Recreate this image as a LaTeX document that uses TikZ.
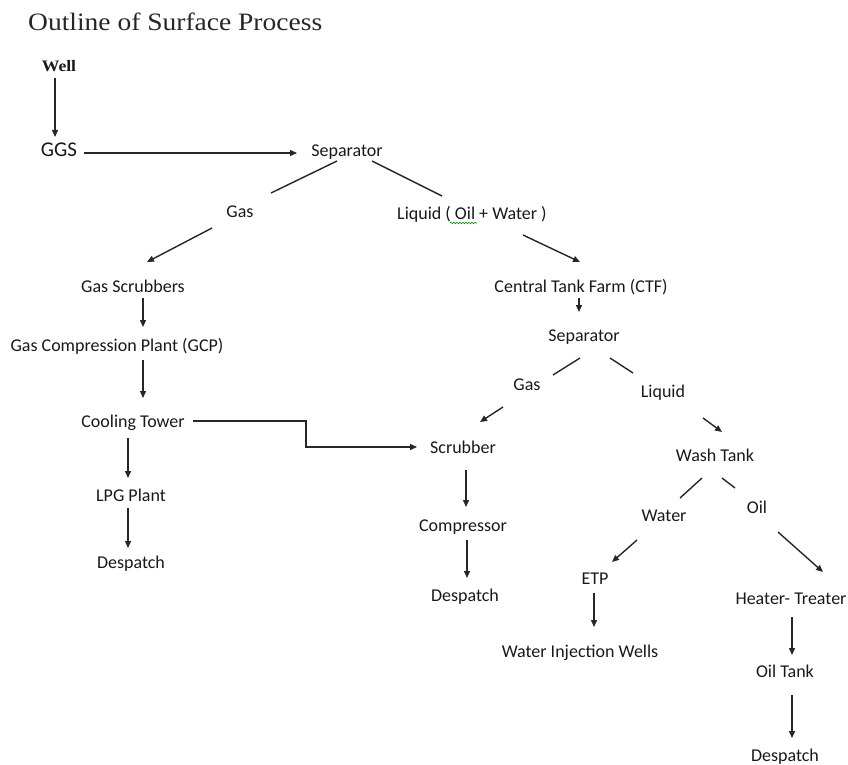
\documentclass[tikz,border=0pt]{standalone}
\usepackage{fontspec}
\setmainfont{Carlito}
\newfontfamily\titlefont[FakeStretch=1.1]{Liberation Serif}
\usepackage{tikz}
\usetikzlibrary{positioning,arrows.meta,decorations.pathmorphing}

\tikzset{
	lbl/.style={draw=none, inner sep=2pt, text height=12pt, text depth=3pt, text=black!90, font=\fontsize{18}{21}\selectfont},
	arr/.style={draw=black!85, line width=1.4pt, -{Triangle[length=7pt,width=6pt]}},
	ln/.style={draw=black!85, line width=1.4pt}
}

\begin{document}
\begin{tikzpicture}[x=1pt,y=-1pt]
	\useasboundingbox (0,0) rectangle (848,765);
	\node [draw=none, anchor=west, inner sep=0pt, text=black!85, font=\titlefont\fontsize{25}{28}\selectfont] (title) at (28,22) {Outline of Surface Process};
	\node [lbl, font=\titlefont\bfseries\fontsize{16}{20}\selectfont] (well) at (59,67) {Well};
	\node [lbl, font=\fontsize{21}{24}\selectfont] (ggs) at (59,152) {GGS};
	\node [lbl] (sep1) at (347,152) {Separator};
	\node [lbl] (gas1) at (240,213) {Gas};
	\node [lbl] (liq1) at (472,215) {Liquid ( Oil + Water )};
	\node [lbl] (gs) at (133,288) {Gas Scrubbers};
	\node [lbl] (gcp) at (117,347) {Gas Compression Plant (GCP)};
	\node [lbl] (ct) at (133,423) {Cooling Tower};
	\node [lbl] (lpg) at (131,497) {LPG Plant};
	\node [lbl] (desp1) at (131,564) {Despatch};
	\node [lbl] (ctf) at (581,288) {Central Tank Farm (CTF)};
	\node [lbl] (sep2) at (584,337) {Separator};
	\node [lbl] (gas2) at (527,386) {Gas};
	\node [lbl] (liq2) at (663,393) {Liquid};
	\node [lbl] (scr) at (463,449) {Scrubber};
	\node [lbl] (wt) at (715,457) {Wash Tank};
	\node [lbl] (comp) at (463,527) {Compressor};
	\node [lbl] (desp2) at (465,597) {Despatch};
	\node [lbl] (water) at (664,517) {Water};
	\node [lbl] (oil) at (757,509) {Oil};
	\node [lbl] (etp) at (595,580) {ETP};
	\node [lbl] (ht) at (791,600) {Heater- Treater};
	\node [lbl] (wiw) at (580,653) {Water Injection Wells};
	\node [lbl] (ot) at (785,673) {Oil Tank};
	\node [lbl] (desp3) at (785,757) {Despatch};

	\draw [green!55!black, line width=0.6pt, decorate, decoration={snake, amplitude=0.8pt, segment length=3pt}] ([shift={(-22,8)}]liq1.center) -- ([shift={(5,8)}]liq1.center);

	\path [arr] ([shift={(-4,11)}]well.center) -- ([shift={(-4,-15)}]ggs.center);
	\path [arr] ([shift={(25,1)}]ggs.center) -- ([shift={(-50,1)}]sep1.center);
	\path [ln] ([shift={(-10,9)}]sep1.center) -- ([shift={(31,-20)}]gas1.center);
	\path [arr] ([shift={(-28,15)}]gas1.center) -- ([shift={(14,-26)}]gs.center);
	\path [ln] ([shift={(25,9)}]sep1.center) -- ([shift={(-30,-19)}]liq1.center);
	\path [arr] ([shift={(51,20)}]liq1.center) -- ([shift={(-1,-26)}]ctf.center);
	\path [arr] ([shift={(10,10)}]gs.center) -- ([shift={(26,-20)}]gcp.center);
	\path [arr] ([shift={(26,13)}]gcp.center) -- ([shift={(10,-25)}]ct.center);
	\path [arr] ([shift={(-5,15)}]ct.center) -- ([shift={(-3,-19)}]lpg.center);
	\path [arr] ([shift={(-3,11)}]lpg.center) -- ([shift={(-3,-16)}]desp1.center);
	\path [arr] ([shift={(60,-2)}]ct.center) -- ++(113,0) |- ([shift={(-46,-2)}]scr.center);
	\path [arr] ([shift={(-2,10)}]ctf.center) -- ([shift={(-5,-25)}]sep2.center);
	\path [ln] ([shift={(-4,21)}]sep2.center) -- ([shift={(26,-11)}]gas2.center);
	\path [ln] ([shift={(26,21)}]sep2.center) -- ([shift={(-30,-20)}]liq2.center);
	\path [arr] ([shift={(-24,21)}]gas2.center) -- ([shift={(17,-27)}]scr.center);
	\path [arr] ([shift={(40,25)}]liq2.center) -- ([shift={(7,-25)}]wt.center);
	\path [arr] ([shift={(3,21)}]scr.center) -- ([shift={(3,-20)}]comp.center);
	\path [arr] ([shift={(4,13)}]comp.center) -- ([shift={(2,-19)}]desp2.center);
	\path [ln] ([shift={(-13,21)}]wt.center) -- ([shift={(16,-19)}]water.center);
	\path [ln] ([shift={(7,21)}]wt.center) -- ([shift={(-22,-21)}]oil.center);
	\path [arr] ([shift={(-27,23)}]water.center) -- ([shift={(17,-18)}]etp.center);
	\path [arr] ([shift={(21,23)}]oil.center) -- ([shift={(32,-28)}]ht.center);
	\path [arr] ([shift={(-1,13)}]etp.center) -- ([shift={(14,-26)}]wiw.center);
	\path [arr] ([shift={(1,17)}]ht.center) -- ([shift={(7,-18)}]ot.center);
	\path [arr] ([shift={(7,22)}]ot.center) -- ([shift={(7,-19)}]desp3.center);
\end{tikzpicture}
\end{document}
